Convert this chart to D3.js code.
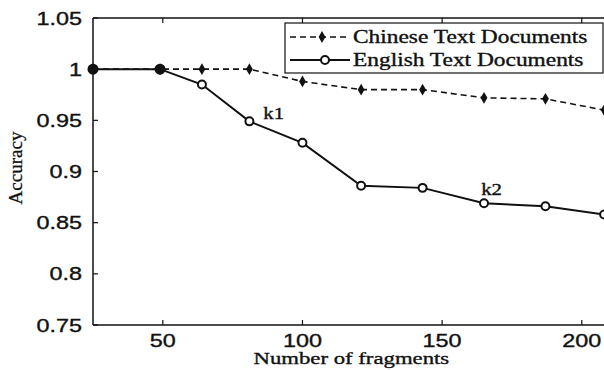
<!DOCTYPE html>
<html><head><meta charset="utf-8">
<script src="https://cdn.jsdelivr.net/npm/d3@7/dist/d3.min.js"></script>
<style>body{margin:0;background:#fff}svg{display:block}</style>
</head><body>
<svg id="c" width="604" height="370"></svg>
<script>
const fragments = [25, 49, 64, 81, 100, 121, 143, 165, 187, 208];
const chinese = [1.000, 1.000, 1.000, 1.000, 0.988, 0.980, 0.980, 0.972, 0.971, 0.960];
const english = [1.000, 1.000, 0.985, 0.949, 0.928, 0.886, 0.884, 0.869, 0.866, 0.858];
const xTicks = [50, 100, 150, 200];
const yTicks = [0.75, 0.8, 0.85, 0.9, 0.95, 1, 1.05];
const seriesNames = ["Chinese Text Documents", "English Text Documents"];
const notes = [{label: "k1", x: 86, y: 0.951}, {label: "k2", x: 164, y: 0.877}];

const svg = d3.select("#c");
const L = 93, T = 18, B = 325;
const x = d3.scaleLinear().domain([25, 210]).range([L, 609.7]);
const y = d3.scaleLinear().domain([0.75, 1.05]).range([B, T]);
const SX = 1.3;
const col = "#111";

function txt(g, s, px, py, opt) {
  return g.append("text").attr("transform", `translate(${px},${py}) scale(${opt.sx||SX},1)`)
    .attr("text-anchor", opt.anchor || "start")
    .attr("font-family", opt.family || "Liberation Sans, Arial, sans-serif")
    .attr("font-size", opt.size || 18).attr("fill", col)
    .attr("stroke", col).attr("stroke-width", 0.35).text(s);
}

// frame
svg.append("line").attr("x1", L).attr("x2", L).attr("y1", T).attr("y2", B).attr("stroke", col).attr("stroke-width", 1.5);
svg.append("line").attr("x1", L).attr("x2", 610).attr("y1", T).attr("y2", T).attr("stroke", col).attr("stroke-width", 1.3);
svg.append("line").attr("x1", L).attr("x2", 610).attr("y1", B).attr("y2", B).attr("stroke", col).attr("stroke-width", 1.5);

// ticks
xTicks.forEach(t => {
  svg.append("line").attr("x1", x(t)).attr("x2", x(t)).attr("y1", B).attr("y2", B - 5).attr("stroke", col).attr("stroke-width", 1.2);
  svg.append("line").attr("x1", x(t)).attr("x2", x(t)).attr("y1", T).attr("y2", T + 5).attr("stroke", col).attr("stroke-width", 1.2);
  txt(svg, String(t), x(t), 347, {anchor: "middle"});
});
yTicks.forEach(t => {
  svg.append("line").attr("x1", L).attr("x2", L + 5).attr("y1", y(t)).attr("y2", y(t)).attr("stroke", col).attr("stroke-width", 1.2);
  txt(svg, d3.format("")(+t.toFixed(2)), 82, y(t) + 6.5, {anchor: "end"});
});

// axis titles
txt(svg, "Number of fragments", (L + 609.7) / 2, 364, {anchor: "middle", family: "Liberation Serif, Times New Roman, serif", size: 17.5});
svg.append("text").attr("transform", `translate(22,168) rotate(-90)`).attr("text-anchor", "middle")
  .attr("font-family", "Liberation Serif, Times New Roman, serif").attr("font-size", 19).attr("fill", col)
  .attr("stroke", col).attr("stroke-width", 0.3).text("Accuracy");

// lines
const line = d3.line().x(d => x(d[0])).y(d => y(d[1]));
const cData = fragments.map((f, i) => [f, chinese[i]]);
const eData = fragments.map((f, i) => [f, english[i]]);
svg.append("path").datum(eData).attr("d", line).attr("fill", "none").attr("stroke", col).attr("stroke-width", 2);
svg.append("path").datum(cData).attr("d", line).attr("fill", "none").attr("stroke", col).attr("stroke-width", 1.6).attr("stroke-dasharray", "6,4");

const circ = d3.symbol().type(d3.symbolCircle).size(50);
const diam = d3.symbol().type(d3.symbolDiamond).size(40);
svg.selectAll(".em").data(eData).join("path").attr("d", circ)
  .attr("transform", d => `translate(${x(d[0])},${y(d[1])})`).attr("fill", "#fff").attr("stroke", col).attr("stroke-width", 2);
svg.selectAll(".cm").data(cData).join("path").attr("d", diam)
  .attr("transform", d => `translate(${x(d[0])},${y(d[1])})`).attr("fill", col);
// overlapping points look filled
svg.selectAll(".ov").data(eData.filter((d, i) => d[1] === chinese[i])).join("circle")
  .attr("cx", d => x(d[0])).attr("cy", d => y(d[1])).attr("r", 5.5).attr("fill", col);

notes.forEach(n => txt(svg, n.label, x(n.x), y(n.y), {family: "Liberation Serif, Times New Roman, serif", size: 16}));

// legend
const lg = svg.append("g");
lg.append("rect").attr("x", 285).attr("y", 23).attr("width", 318).attr("height", 50).attr("fill", "#fff").attr("stroke", col).attr("stroke-width", 1.2);
[0, 1].forEach(i => {
  const ly = i === 0 ? 37 : 60;
  lg.append("line").attr("x1", 290).attr("x2", 350).attr("y1", ly).attr("y2", ly).attr("stroke", col)
    .attr("stroke-width", i === 0 ? 1.6 : 2).attr("stroke-dasharray", i === 0 ? "6,4" : null);
  lg.append("path").attr("d", i === 0 ? diam : circ).attr("transform", `translate(${i === 0 ? 322 : 325},${ly})`)
    .attr("fill", i === 0 ? col : "#fff").attr("stroke", i === 0 ? null : col).attr("stroke-width", 2);
  txt(lg, seriesNames[i], 353, ly + 6, {family: "Liberation Serif, Times New Roman, serif", size: 18});
});
</script>
</body></html>
